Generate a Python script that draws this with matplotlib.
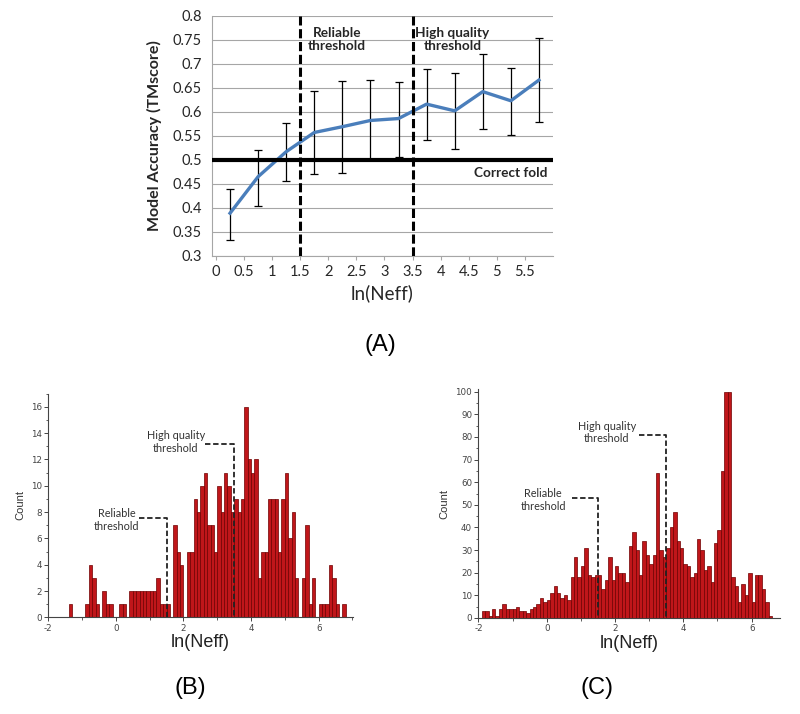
import numpy as np
import matplotlib
matplotlib.use("Agg")
import matplotlib.pyplot as plt
from matplotlib.ticker import MultipleLocator

# Panel A: mean model accuracy per ln(Neff) bin, with error bar ends
neff_mid = [0.25, 0.75, 1.25, 1.75, 2.25, 2.75, 3.25, 3.75, 4.25, 4.75, 5.25, 5.75]
tm_mean = [0.389, 0.465, 0.517, 0.557, 0.569, 0.582, 0.586, 0.616, 0.602, 0.642, 0.623, 0.666]
tm_upper = [0.439, 0.521, 0.577, 0.644, 0.665, 0.666, 0.663, 0.689, 0.680, 0.720, 0.692, 0.754]
tm_lower = [0.333, 0.405, 0.457, 0.471, 0.473, 0.500, 0.507, 0.541, 0.523, 0.565, 0.552, 0.579]
a_xticks = [0, 0.5, 1, 1.5, 2, 2.5, 3, 3.5, 4, 4.5, 5, 5.5]
a_yticks = [0.3, 0.35, 0.4, 0.45, 0.5, 0.55, 0.6, 0.65, 0.7, 0.75, 0.8]

# Panel B / C: histogram counts, bins of width 0.1
bin_w = 0.1
b_start = -1.4
b_counts = [1, 0, 0, 0, 0, 1, 4, 3, 1, 0,
            2, 1, 1, 0, 0, 1, 1, 0, 2, 2,
            2, 2, 2, 2, 2, 2, 3, 1, 1, 1,
            0, 7, 5, 4, 0, 5, 5, 9, 8, 10,
            11, 7, 7, 5, 10, 8, 11, 10, 8, 9,
            8, 9, 16, 12, 11, 12, 3, 5, 5, 9,
            9, 9, 5, 9, 11, 6, 8, 3, 0, 3,
            7, 1, 3, 0, 1, 1, 1, 4, 3, 1,
            0, 1]
c_start = -1.9
c_counts = [3, 3, 1, 4, 1, 4, 6, 4, 4, 4,
            5, 3, 3, 2, 4, 5, 6, 9, 7, 8,
            11, 14, 11, 9, 10, 8, 18, 27, 18, 23,
            31, 19, 18, 19, 19, 13, 17, 27, 17, 23,
            20, 20, 16, 32, 38, 30, 19, 34, 28, 24,
            28, 64, 30, 27, 31, 40, 47, 34, 31, 24,
            23, 18, 20, 35, 30, 21, 23, 16, 33, 39,
            65, 100, 100, 18, 14, 7, 15, 10, 20, 7,
            19, 19, 13, 7, 1]

RELIABLE = 1.5
HIGH_Q = 3.5
SANS = ["Lato", "DejaVu Sans"]
ARIAL = ["Liberation Sans", "DejaVu Sans"]

plt.rcParams["axes.unicode_minus"] = False

fig = plt.figure(figsize=(8, 7.14), dpi=100, facecolor="white")

# ---------------- Panel A ----------------
ax = fig.add_axes([0.2646, 0.6415, 0.4266, 0.3365])
ax.set_xlim(-0.077, 6.0)
ax.set_ylim(0.3, 0.8)
ax.set_yticks(a_yticks)
ax.set_yticklabels([f"{v:g}" for v in a_yticks], family=SANS)
ax.set_xticks(a_xticks)
ax.set_xticklabels([f"{v:g}" for v in a_xticks], family=SANS)
ax.grid(axis="y", color="#a6a6a6", lw=0.8)
ax.set_axisbelow(True)
for s in ["top", "right"]:
    ax.spines[s].set_visible(False)
for s in ["left", "bottom"]:
    ax.spines[s].set_color("#a6a6a6")
ax.tick_params(axis="both", colors="#a6a6a6", labelcolor="#262626",
               labelsize=10.5, length=3)
ax.tick_params(axis="y", length=0, pad=7)

err_lo = np.array(tm_mean) - np.array(tm_lower)
err_hi = np.array(tm_upper) - np.array(tm_mean)
ax.errorbar(neff_mid, tm_mean, yerr=[err_lo, err_hi], fmt="none",
            ecolor="black", elinewidth=0.9, capsize=3, capthick=0.9, zorder=3)
ax.plot(neff_mid, tm_mean, color="#4a7ebb", lw=2.4, zorder=4)
ax.axhline(0.5, color="black", lw=3, zorder=5)
for xv in [RELIABLE, HIGH_Q]:
    ax.axvline(xv, color="black", lw=2.2, ls=(0, (3, 1.2)), zorder=5)

ax.text(2.15, 0.75, "Reliable\nthreshold", ha="center", va="center",
        fontsize=9.8, fontweight="bold", color="#262626", linespacing=1.15,
        family=SANS)
ax.text(4.21, 0.75, "High quality\nthreshold", ha="center", va="center",
        fontsize=9.8, fontweight="bold", color="#262626", linespacing=1.15,
        family=SANS)
ax.text(5.24, 0.472, "Correct fold", ha="center", va="center",
        fontsize=9.8, fontweight="bold", color="#262626", family=SANS)
ax.set_ylabel("Model Accuracy (TMscore)", fontsize=11.5, fontweight="bold",
              color="#262626", labelpad=8, family=SANS)
ax.set_xlabel("ln(Neff)", fontsize=13.5, color="#262626", labelpad=4,
              family=SANS)

fig.text(0.475, 0.517, "(A)", ha="center", va="center", fontsize=17,
         family=ARIAL)


# ---------------- Panels B and C ----------------
def hist_panel(rect, start, counts, xmax, ymax, ymaj, ymin,
               rel_txt, rel_y, rel_x0, hq_txt, hq_y, hq_x0):
    h = fig.add_axes(rect)
    edges = start + bin_w * np.arange(len(counts))
    h.bar(edges, counts, width=bin_w, align="edge", color="#c0161a",
          edgecolor="#6e0000", linewidth=0.5, zorder=2)
    h.set_xlim(-2, xmax)
    h.set_ylim(0, ymax)
    h.xaxis.set_major_locator(MultipleLocator(2))
    h.xaxis.set_minor_locator(MultipleLocator(1))
    h.yaxis.set_major_locator(MultipleLocator(ymaj))
    h.yaxis.set_minor_locator(MultipleLocator(ymin))
    for s in ["top", "right"]:
        h.spines[s].set_visible(False)
    for s in ["left", "bottom"]:
        h.spines[s].set_color("#444444")
        h.spines[s].set_linewidth(0.8)
    h.tick_params(which="major", direction="out", length=3, width=0.7,
                  colors="#444444", labelsize=6.3, pad=1.5)
    h.tick_params(which="minor", direction="out", length=1.8, width=0.6,
                  colors="#444444")
    h.set_ylabel("Count", fontsize=8, color="#333333", labelpad=4,
                 family=ARIAL)
    h.set_xlabel("ln(Neff)", fontsize=13, color="#222222", labelpad=1,
                 family=ARIAL)
    # threshold call-outs
    h.plot([rel_x0, RELIABLE, RELIABLE], [rel_y, rel_y, 0], color="#222222",
           lw=1.3, ls=(0, (3, 1.5)), zorder=3)
    h.plot([hq_x0, HIGH_Q, HIGH_Q], [hq_y, hq_y, 0], color="#222222",
           lw=1.3, ls=(0, (3, 1.5)), zorder=3)
    h.text(rel_txt[0], rel_txt[1], "Reliable\nthreshold", ha="center",
           va="center", fontsize=7.8, color="#333333", linespacing=1.2,
           family=SANS)
    h.text(hq_txt[0], hq_txt[1], "High quality\nthreshold", ha="center",
           va="center", fontsize=7.8, color="#333333", linespacing=1.2,
           family=SANS)
    return h


hist_panel([0.0604, 0.1354, 0.381, 0.3133], b_start, b_counts, 7.02, 17, 2, 1,
           (0.03, 7.4), 7.55, 0.67, (1.77, 13.3), 13.2, 2.64)
hist_panel([0.598, 0.1345, 0.377, 0.320], c_start, c_counts, 6.83, 101, 10, 5,
           (-0.1, 52), 53.2, 0.75, (1.76, 82), 80.9, 2.71)

fig.text(0.2375, 0.036, "(B)", ha="center", va="center", fontsize=17,
         family=ARIAL)
fig.text(0.746, 0.036, "(C)", ha="center", va="center", fontsize=17,
         family=ARIAL)

fig.savefig("out.png", dpi=100, facecolor="white")
